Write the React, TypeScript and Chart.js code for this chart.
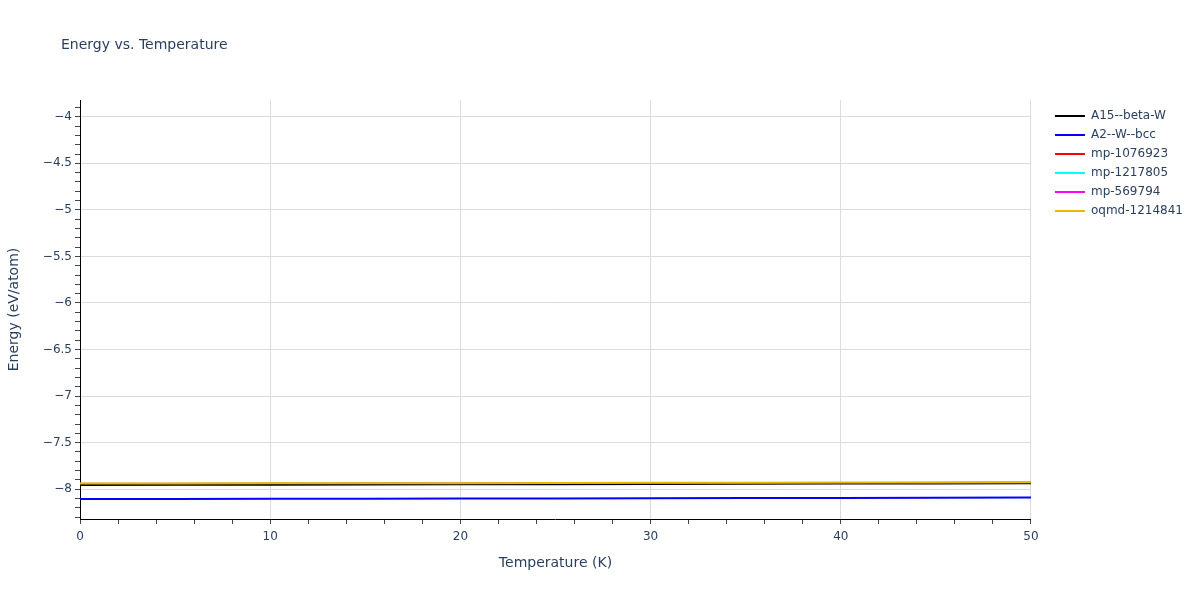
import React, { useEffect, useRef } from 'react';
import { Chart, registerables } from 'chart.js';

Chart.register(...registerables);

const chartTitle = 'Energy vs. Temperature';
const xTitle = 'Temperature (K)';
const yTitle = 'Energy (eV/atom)';

const temperatures = [0, 5, 10, 15, 20, 25, 30, 35, 40, 45, 50];

const seriesNames = ['A15--beta-W', 'A2--W--bcc', 'mp-1076923', 'mp-1217805', 'mp-569794', 'oqmd-1214841'];
const seriesColors = ['#000000', '#0000ff', '#ff0000', '#00ffff', '#ff00ff', '#e6b800'];
// the three mp traces sit right under the oqmd trace
const seriesWidths = [2, 2, 1, 1, 1, 2];

const a15BetaW = [-7.954, -7.953, -7.952, -7.95, -7.948, -7.946, -7.944, -7.942, -7.94, -7.938, -7.936];
const a2WBcc = [-8.104, -8.104, -8.103, -8.102, -8.1, -8.099, -8.097, -8.095, -8.094, -8.092, -8.09];
const mp1076923 = [-7.938, -7.938, -7.937, -7.936, -7.935, -7.933, -7.932, -7.93, -7.929, -7.927, -7.925];
const mp1217805 = [-7.938, -7.938, -7.937, -7.936, -7.935, -7.933, -7.932, -7.93, -7.929, -7.927, -7.925];
const mp569794 = [-7.938, -7.938, -7.937, -7.936, -7.935, -7.933, -7.932, -7.93, -7.929, -7.927, -7.925];
const oqmd1214841 = [-7.938, -7.938, -7.937, -7.936, -7.935, -7.933, -7.932, -7.93, -7.929, -7.927, -7.925];

const seriesValues = [a15BetaW, a2WBcc, mp1076923, mp1217805, mp569794, oqmd1214841];

// axis ranges and tick steps
const xRange = [0, 50];
const xMajorStep = 10;
const xMinorStep = 2;
const yRange = [-8.32, -3.82];
const yMajorTicks = [-8, -7.5, -7, -6.5, -6, -5.5, -5, -4.5, -4];
const yMinorStep = 0.1;

const textColor = '#2a3f5f';
const fontFamily = '"DejaVu Sans", Verdana, sans-serif';

const isMajorY = (v: number) => yMajorTicks.some(t => Math.abs(t - v) < 1e-6);
const isMajorX = (v: number) => Math.abs(v / xMajorStep - Math.round(v / xMajorStep)) < 1e-6;

const titlePlugin = {
    id: 'plotTitle',
    afterDraw(chart: any) {
        const ctx = chart.ctx;
        ctx.save();
        ctx.font = `14px ${fontFamily}`;
        ctx.fillStyle = textColor;
        ctx.textBaseline = 'middle';
        ctx.textAlign = 'left';
        ctx.fillText(chartTitle, 61, 45);
        ctx.restore();
    },
};

const App: React.FC = () => {
    const canvasRef = useRef<HTMLCanvasElement>(null);
    const chartInstance = useRef<Chart | null>(null);

    useEffect(() => {
        if (!canvasRef.current) return;
        if (chartInstance.current) chartInstance.current.destroy();

        const datasets = seriesNames.map((name, i) => ({
            label: name,
            data: temperatures.map((t, j) => ({ x: t, y: seriesValues[i][j] })),
            borderColor: seriesColors[i],
            backgroundColor: seriesColors[i],
            borderWidth: seriesWidths[i],
            pointRadius: 0,
            tension: 0,
            // plotly draws later traces on top
            order: seriesNames.length - i,
        }));

        chartInstance.current = new Chart(canvasRef.current, {
            type: 'line',
            data: { datasets },
            plugins: [titlePlugin],
            options: {
                animation: false,
                responsive: true,
                maintainAspectRatio: false,
                layout: { padding: { top: 100, right: 7, left: 0, bottom: 0 } },
                scales: {
                    x: {
                        type: 'linear',
                        min: xRange[0],
                        max: xRange[1],
                        afterBuildTicks: (scale: any) => {
                            const ticks = [];
                            for (let v = xRange[0]; v <= xRange[1] + 1e-9; v += xMinorStep) ticks.push({ value: v });
                            scale.ticks = ticks;
                        },
                        afterFit: (scale: any) => { scale.height = 81; },
                        border: { display: true, color: '#000', width: 1 },
                        grid: {
                            color: (c: any) => (c.tick && isMajorX(c.tick.value) ? '#dcdcdc' : 'rgba(0,0,0,0)'),
                            tickColor: '#444',
                            tickLength: 5,
                        },
                        ticks: {
                            autoSkip: false,
                            maxRotation: 0,
                            padding: 6,
                            color: textColor,
                            font: { family: fontFamily, size: 12 },
                            callback: (v: any) => (isMajorX(Number(v)) ? String(Math.round(Number(v))) : ''),
                        },
                        title: {
                            display: true,
                            text: xTitle,
                            color: textColor,
                            font: { family: fontFamily, size: 14 },
                            padding: { top: 0, bottom: 28 },
                        },
                    },
                    y: {
                        type: 'linear',
                        min: yRange[0],
                        max: yRange[1],
                        afterBuildTicks: (scale: any) => {
                            const ticks = [];
                            const start = Math.ceil(yRange[0] / yMinorStep);
                            const end = Math.floor(yRange[1] / yMinorStep);
                            for (let i = start; i <= end; i++) ticks.push({ value: i * yMinorStep });
                            scale.ticks = ticks;
                        },
                        afterFit: (scale: any) => { scale.width = 80; },
                        border: { display: true, color: '#000', width: 1 },
                        grid: {
                            color: (c: any) => (c.tick && isMajorY(c.tick.value) ? '#dcdcdc' : 'rgba(0,0,0,0)'),
                            tickColor: '#444',
                            tickLength: 5,
                        },
                        ticks: {
                            autoSkip: false,
                            padding: 3,
                            color: textColor,
                            font: { family: fontFamily, size: 12 },
                            callback: (v: any) => {
                                const n = Number(v);
                                if (!isMajorY(n)) return '';
                                const r = Math.round(n * 10) / 10;
                                return (r < 0 ? '\u2212' : '') + String(Math.abs(r));
                            },
                        },
                        title: {
                            display: true,
                            text: yTitle,
                            color: textColor,
                            font: { family: fontFamily, size: 14 },
                            padding: { top: 6, bottom: 0 },
                        },
                    },
                    // empty spacer between plot area and legend
                    gap: {
                        type: 'linear',
                        position: 'right',
                        display: true,
                        grid: { display: false, drawTicks: false },
                        border: { display: false },
                        ticks: { display: false },
                        afterFit: (scale: any) => { scale.width = 17; },
                    },
                },
                plugins: {
                    title: { display: false },
                    legend: {
                        position: 'right',
                        align: 'start',
                        title: { display: true, text: ' ', padding: 0, font: { size: 2.5 } },
                        labels: {
                            usePointStyle: true,
                            pointStyle: 'line',
                            pointStyleWidth: 30,
                            boxHeight: 12,
                            padding: 7,
                            color: textColor,
                            font: { family: fontFamily, size: 12 },
                            sort: (a: any, b: any) => a.datasetIndex - b.datasetIndex,
                            generateLabels: (chart: any) =>
                                Chart.defaults.plugins.legend.labels.generateLabels(chart).map((item: any) => ({
                                    ...item,
                                    lineWidth: 2,
                                })),
                        },
                    },
                    tooltip: { enabled: false },
                },
            } as any,
        });

        return () => {
            if (chartInstance.current) {
                chartInstance.current.destroy();
                chartInstance.current = null;
            }
        };
    }, []);

    return (
        <div style={{ position: 'fixed', left: 0, top: 0, width: 1200, height: 600, background: '#fff' }}>
            <canvas ref={canvasRef}></canvas>
        </div>
    );
};

export default App;
